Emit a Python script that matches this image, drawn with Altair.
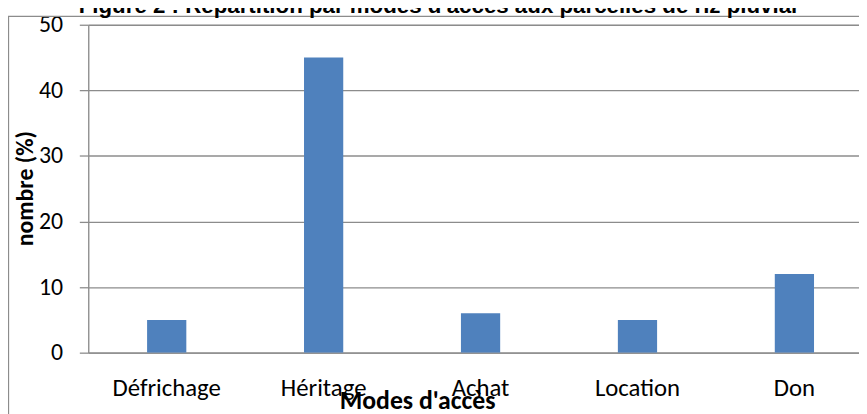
import altair as alt
import pandas as pd

categories = ["Défrichage", "Héritage", "Achat", "Location", "Don"]
values = [5, 45, 6, 5, 12]
y_ticks = [0, 10, 20, 30, 40, 50]

title_text = "Figure 2 : Répartition par modes d'accès aux parcelles de riz pluvial"

df = pd.DataFrame({"mode": categories, "nombre": values})

LABEL_FONT = "Carlito, 'Liberation Sans Narrow', 'Open Sans', sans-serif"
GRID = "#8c8c8c"

bars = alt.Chart(df).mark_bar(color="#4F81BD", clip=True).encode(
    x=alt.X(
        "mode:N",
        sort=categories,
        scale=alt.Scale(range=[0, 792], paddingInner=0.75, paddingOuter=0.375),
        axis=alt.Axis(
            title="Modes d'accès",
            labelAngle=0,
            ticks=False,
            tickSize=0,
            labelPadding=43,
            labelBaseline="alphabetic",
            labelFont=LABEL_FONT,
            labelFontSize=25,
            labelColor="#000000",
            domainColor=GRID,
            domainWidth=1.3,
            titleFont=LABEL_FONT,
            titleFontSize=26,
            titleFontWeight="bold",
            titleColor="#000000",
            titleX=332,
            titleY=56,
            titleAlign="center",
            titleBaseline="alphabetic",
        ),
    ),
    y=alt.Y(
        "nombre:Q",
        scale=alt.Scale(domain=[0, 50], nice=False),
        axis=alt.Axis(
            title="nombre (%)",
            values=y_ticks,
            grid=True,
            gridColor=GRID,
            gridWidth=1.3,
            tickColor=GRID,
            tickSize=9,
            tickWidth=1.3,
            domainColor=GRID,
            domainWidth=1.3,
            labelPadding=17,
            labelFont=LABEL_FONT,
            labelFontSize=24,
            labelColor="#000000",
            titleFont=LABEL_FONT,
            titleFontSize=24,
            titleFontWeight="bold",
            titleColor="#000000",
            titleX=-63,
            titleY=165,
            titleAlign="center",
            titleBaseline="middle",
            titleAngle=270,
        ),
    ),
)

frame = alt.Chart(alt.Data(values=[{}])).mark_rect(
    fill=None, stroke="#8c8c8c", strokeWidth=1.3, clip=False
).encode(
    x=alt.value(-80.5), x2=alt.value(900), y=alt.value(-8.5), y2=alt.value(500)
)

title = alt.Chart(alt.Data(values=[{"t": title_text}])).mark_text(
    font="Liberation Sans",
    fontSize=22.5,
    fontWeight="bold",
    color="#000000",
    align="center",
    baseline="alphabetic",
    clip=False,
).encode(text="t:N", x=alt.value(353), y=alt.value(-12))

chart = alt.layer(bars, frame, title).properties(
    width=778,
    height=331,
    padding={"left": 81, "top": 15, "right": 0, "bottom": 60},
    autosize=alt.AutoSizeParams(type="none"),
).configure_view(stroke=None).configure(background="white")

chart.save("out.html", embed_options={"renderer": "svg", "actions": False})
